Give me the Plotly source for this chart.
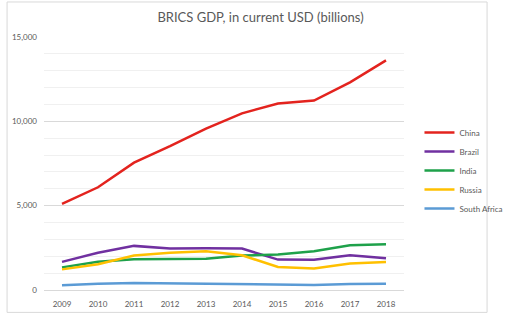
import plotly.graph_objects as go

years = ["2009", "2010", "2011", "2012", "2013", "2014", "2015", "2016", "2017", "2018"]
china = [5100, 6090, 7550, 8530, 9570, 10475, 11060, 11230, 12310, 13610]
brazil = [1667, 2209, 2616, 2465, 2473, 2456, 1802, 1796, 2063, 1885]
india = [1342, 1676, 1823, 1828, 1857, 2039, 2104, 2295, 2651, 2719]
russia = [1223, 1525, 2046, 2208, 2292, 2059, 1363, 1277, 1574, 1657]
south_africa = [285, 375, 416, 396, 367, 351, 317, 296, 349, 368]

series = [
    ("China", china, "#E3231E"),
    ("Brazil", brazil, "#7030A0"),
    ("India", india, "#1EA14A"),
    ("Russia", russia, "#FFC000"),
    ("South Africa", south_africa, "#5B9BD5"),
]

fig = go.Figure()
for name, vals, col in series:
    fig.add_trace(go.Scatter(x=years, y=vals, name=name, mode="lines",
                             line=dict(color=col, width=2.5)))

fig.update_layout(
    width=521, height=321,
    margin=dict(l=40, r=91, t=37, b=24),
    paper_bgcolor="white", plot_bgcolor="white",
    font=dict(family="Lato, Liberation Sans, sans-serif", color="#595959", size=8),
    title=dict(text="BRICS GDP, in current USD (billions)", x=0.5, xanchor="center",
               y=0.947, yanchor="middle", yref="container",
               font=dict(size=13, color="#595959")),
    showlegend=True,
    legend=dict(x=1.043, y=0.68, xanchor="left", yanchor="top",
                font=dict(size=8, color="#595959"), itemwidth=30,
                tracegroupgap=0, bgcolor="rgba(0,0,0,0)"),
    xaxis=dict(type="category", range=[-0.5, 9.5], showgrid=False, ticks="",
               showline=True, linecolor="#d9d9d9", linewidth=1,
               tickfont=dict(size=8), ticklabelstandoff=6),
    yaxis=dict(range=[0, 15000], dtick=5000, tickformat=",", showgrid=True,
               gridcolor="#d9d9d9", gridwidth=1, zeroline=False, ticks="",
               tickfont=dict(size=8), ticklabelstandoff=6,
               minor=dict(dtick=1000, showgrid=True, gridcolor="#f0f0f0", gridwidth=1)),
)

fig.add_shape(type="rect", xref="paper", yref="paper", x0=-40/390, x1=1+90/390,
              y0=-23/260, y1=1+36/260, line=dict(color="#d9d9d9", width=1))

fig.write_html("out.html")
